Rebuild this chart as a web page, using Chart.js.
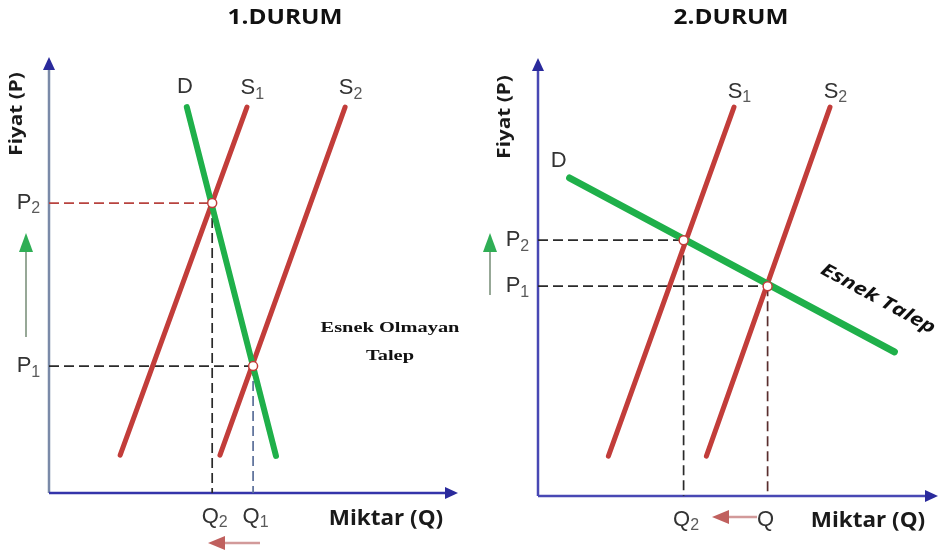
<!DOCTYPE html>
<html>
<head>
<meta charset="utf-8">
<script src="https://cdn.jsdelivr.net/npm/chart.js@4.4.0/dist/chart.umd.min.js"></script>
<style>
    html, body { margin: 0; padding: 0; background: #fff; }
    #wrap { width: 944px; height: 554px; display: flex; }
    canvas { display: block; }
</style>
</head>
<body>
<div id="wrap">
    <canvas id="durum1" width="472" height="554"></canvas>
    <canvas id="durum2" width="472" height="554"></canvas>
</div>
<script>
// Values, in an axis range of 0..10 (Q across, P up)
const durum1Demand = [[3.37, 8.85], [5.55, 0.85]];
const durum1Supply1 = [[4.84, 8.85], [1.74, 0.87]];
const durum1Supply2 = [[7.24, 8.85], [4.18, 0.87]];
const durum1Equilibria = [[3.99, 6.65], [4.99, 2.91]];   // P2/Q2, P1/Q1
const durum1PriceSubs = ['2', '1'];
const durum1QtySubs = ['2', '1'];

const durum2Demand = [[0.79, 7.26], [8.91, 3.29]];
const durum2Supply1 = [[4.90, 8.88], [1.76, 0.91]];
const durum2Supply2 = [[7.30, 8.88], [4.21, 0.91]];
const durum2Equilibria = [[3.64, 5.84], [5.74, 4.79]];   // P2/Q2, P1/Q
const durum2PriceSubs = ['2', '1'];
const durum2QtySubs = ['2', ''];

const curveNames = [['D', ''], ['S', '1'], ['S', '2']];

const GREEN = '#1fb04a';
const RED = '#c23d3a';
const LABEL = '#333333';
const SUBCOL = '#5a5a5a';

const toXY = arr => arr.map(([x, y]) => ({ x, y }));

function drawSub(ctx, main, sub, cx, cy) {
    // main glyph centred on cx, subscript hung to its right
    ctx.font = '22px "Liberation Sans", Arial, sans-serif';
    ctx.fillStyle = LABEL;
    ctx.textAlign = 'center';
    ctx.textBaseline = 'middle';
    const w = ctx.measureText(main).width;
    ctx.fillText(main, cx, cy);
    if (sub) {
        ctx.font = '16px "Liberation Sans", Arial, sans-serif';
        ctx.fillStyle = SUBCOL;
        ctx.textAlign = 'left';
        ctx.fillText(sub, cx + w / 2, cy + 6);
    }
}

// the source picture has its lettering a bit stretched, so scale along the text
function stretchText(ctx, text, x, y, sx, angle) {
    ctx.save();
    ctx.textAlign = 'center';
    ctx.textBaseline = 'middle';
    ctx.translate(x, y);
    ctx.rotate(angle || 0);
    ctx.scale(sx, 1);
    ctx.fillText(text, 0, 0);
    ctx.restore();
}

function arrowHead(ctx, tipX, tipY, dir, len, half, color) {
    ctx.fillStyle = color;
    ctx.beginPath();
    if (dir === 'up') {
        ctx.moveTo(tipX, tipY);
        ctx.lineTo(tipX - half, tipY + len);
        ctx.lineTo(tipX + half, tipY + len);
    } else if (dir === 'right') {
        ctx.moveTo(tipX, tipY);
        ctx.lineTo(tipX - len, tipY - half);
        ctx.lineTo(tipX - len, tipY + half);
    } else {
        ctx.moveTo(tipX, tipY);
        ctx.lineTo(tipX + len, tipY - half);
        ctx.lineTo(tipX + len, tipY + half);
    }
    ctx.closePath();
    ctx.fill();
}

const diagramPlugin = {
    id: 'diagram',
    beforeDatasetsDraw(chart, args, o) {
        const { ctx, chartArea: a } = chart;
        ctx.save();
        // vertical axis
        ctx.strokeStyle = o.yAxisColor;
        ctx.lineWidth = 2.5;
        ctx.beginPath();
        ctx.moveTo(a.left, a.bottom);
        ctx.lineTo(a.left, a.top + 10);
        ctx.stroke();
        arrowHead(ctx, a.left, a.top, 'up', 13, 6, '#2a2a9c');
        // horizontal axis
        ctx.strokeStyle = o.xAxisColor;
        ctx.beginPath();
        ctx.moveTo(a.left, a.bottom);
        ctx.lineTo(a.right - 10, a.bottom);
        ctx.stroke();
        arrowHead(ctx, a.right, a.bottom, 'right', 13, 6, '#2a2a9c');
        ctx.restore();
    },
    afterDraw(chart, args, o) {
        const { ctx, chartArea: a, scales } = chart;
        const xs = scales.x, ys = scales.y;
        ctx.save();

        // title
        ctx.font = 'bold 21px "Open Sans", sans-serif';
        ctx.fillStyle = '#111';
        stretchText(ctx, o.title, o.titleX, 18, 1.16);

        // axis titles
        ctx.fillStyle = '#1a1a1a';
        ctx.font = 'bold 21px "Open Sans", sans-serif';
        stretchText(ctx, 'Miktar (Q)', o.qTitleX, o.qTitleY, 1.07);
        ctx.font = 'bold 17px "Open Sans", sans-serif';
        stretchText(ctx, 'Fiyat (P)', o.pTitleX, o.pTitleY, 1.22, -Math.PI / 2);

        // curve names above the top end of each line
        o.curves.forEach((pts, i) => {
            const [q, p] = pts[0];
            const off = o.curveOffsets[i];
            drawSub(ctx, curveNames[i][0], curveNames[i][1],
                xs.getPixelForValue(q) + off[0], ys.getPixelForValue(p) + off[1]);
        });

        // P and Q labels for each equilibrium
        o.equilibria.forEach(([q, p], i) => {
            drawSub(ctx, 'P', o.priceSubs[i], a.left - 25, ys.getPixelForValue(p));
            drawSub(ctx, 'Q', o.qtySubs[i], xs.getPixelForValue(q) - 2, a.bottom + 24);
        });

        // price-rise arrow (green)
        const g = o.greenArrow;
        ctx.strokeStyle = '#97a897';
        ctx.lineWidth = 2;
        ctx.beginPath();
        ctx.moveTo(g.x, g.bottom);
        ctx.lineTo(g.x, g.tip + 15);
        ctx.stroke();
        arrowHead(ctx, g.x, g.tip, 'up', 19, 7, '#2fae55');

        // quantity-fall arrow (red)
        const r = o.redArrow;
        ctx.strokeStyle = '#d29a9a';
        ctx.lineWidth = 2.5;
        ctx.beginPath();
        ctx.moveTo(r.end, r.y);
        ctx.lineTo(r.tip + 14, r.y);
        ctx.stroke();
        arrowHead(ctx, r.tip, r.y, 'left', 17, 7, '#c0605e');

        // elasticity note
        const n = o.note;
        ctx.font = n.font;
        ctx.fillStyle = '#111';
        n.lines.forEach((t, i) => stretchText(ctx, t, n.x, n.y + i * n.lineGap, n.stretch, n.angle));

        ctx.restore();
    }
};

function guideSets(eq, colors) {
    // dashed guides: horizontal from the P axis, vertical down to the Q axis
    const sets = [];
    eq.forEach(([q, p], i) => {
        sets.push({ data: [{ x: 0, y: p }, { x: q, y: p }], borderColor: colors[i][0] });
        sets.push({ data: [{ x: q, y: p }, { x: q, y: 0 }], borderColor: colors[i][1] });
    });
    return sets.map(s => Object.assign(s, {
        showLine: true, borderWidth: 1.7, borderDash: [10, 5], pointRadius: 0, order: 3
    }));
}

function makePanel(id, cfg) {
    const lineStyle = (color, width) => ({
        showLine: true, borderColor: color, borderWidth: width,
        borderCapStyle: 'round', pointRadius: 0, order: 1
    });
    return new Chart(document.getElementById(id), {
        type: 'scatter',
        data: {
            datasets: [
                Object.assign({ data: toXY(cfg.demand) }, lineStyle(GREEN, cfg.demandWidth)),
                Object.assign({ data: toXY(cfg.supply1) }, lineStyle(RED, 5)),
                Object.assign({ data: toXY(cfg.supply2) }, lineStyle(RED, 5)),
                ...guideSets(cfg.equilibria, cfg.guideColors),
                {
                    data: toXY(cfg.equilibria), showLine: false, order: 0,
                    pointRadius: 4.5, pointBackgroundColor: '#fff',
                    pointBorderColor: RED, pointBorderWidth: 1.5
                }
            ]
        },
        options: {
            responsive: false,
            animation: false,
            layout: { padding: cfg.padding },
            scales: {
                x: { type: 'linear', min: 0, max: 10, display: false },
                y: { type: 'linear', min: 0, max: 10, display: false }
            },
            plugins: {
                legend: { display: false },
                tooltip: { enabled: false },
                diagram: {
                    title: cfg.title, titleX: cfg.titleX,
                    qTitleX: cfg.qTitleX, qTitleY: cfg.qTitleY,
                    pTitleX: cfg.pTitleX, pTitleY: cfg.pTitleY,
                    yAxisColor: cfg.yAxisColor, xAxisColor: cfg.xAxisColor,
                    curves: [cfg.demand, cfg.supply1, cfg.supply2],
                    curveOffsets: cfg.curveOffsets,
                    equilibria: cfg.equilibria,
                    priceSubs: cfg.priceSubs, qtySubs: cfg.qtySubs,
                    greenArrow: cfg.greenArrow, redArrow: cfg.redArrow,
                    note: cfg.note
                }
            }
        },
        plugins: [diagramPlugin]
    });
}

makePanel('durum1', {
    title: '1.DURUM', titleX: 285,
    demand: durum1Demand, supply1: durum1Supply1, supply2: durum1Supply2,
    equilibria: durum1Equilibria, priceSubs: durum1PriceSubs, qtySubs: durum1QtySubs,
    demandWidth: 6,
    padding: { left: 49, right: 14, top: 57, bottom: 61 },
    yAxisColor: '#7a8aa8', xAxisColor: '#3434aa',
    guideColors: [['#b8433f', '#2a2a2a'], ['#2a2a2a', '#5a6e98']],
    curveOffsets: [[-2, -20], [1, -19], [1, -19]],
    qTitleX: 386, qTitleY: 519, pTitleX: 17, pTitleY: 114,
    greenArrow: { x: 26, tip: 233, bottom: 337 },
    redArrow: { y: 543, tip: 208, end: 260 },
    note: {
        x: 390, y: 328, angle: 0, lineGap: 28, stretch: 1.36,
        font: 'bold 15px "Liberation Serif", "Times New Roman", serif',
        lines: ['Esnek Olmayan', 'Talep']
    }
});

makePanel('durum2', {
    title: '2.DURUM', titleX: 259,
    demand: durum2Demand, supply1: durum2Supply1, supply2: durum2Supply2,
    equilibria: durum2Equilibria, priceSubs: durum2PriceSubs, qtySubs: durum2QtySubs,
    demandWidth: 7,
    padding: { left: 66, right: 2, top: 58, bottom: 58 },
    yAxisColor: '#4848b4', xAxisColor: '#4848b4',
    guideColors: [['#2a2a2a', '#2a2a2a'], ['#2a2a2a', '#5a2e2e']],
    curveOffsets: [[-11, -17], [1, -15], [1, -15]],
    qTitleX: 396, qTitleY: 521, pTitleX: 33, pTitleY: 117,
    greenArrow: { x: 18, tip: 233, bottom: 295 },
    redArrow: { y: 517, tip: 240, end: 285 },
    note: {
        x: 406, y: 299, angle: 0.5, lineGap: 0, stretch: 1.27,
        font: 'italic bold 18px "Open Sans", sans-serif',
        lines: ['Esnek Talep']
    }
});
</script>
</body>
</html>
